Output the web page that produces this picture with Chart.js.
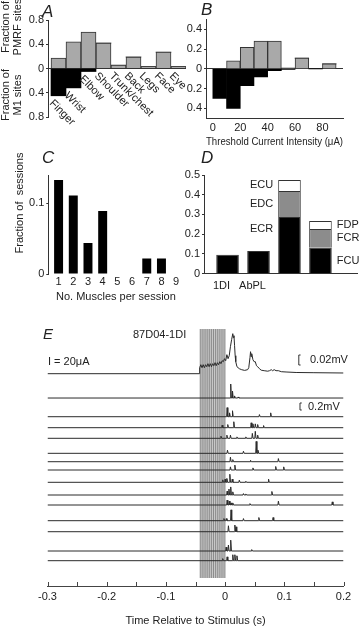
<!DOCTYPE html>
<html>
<head>
<meta charset="utf-8">
<script src="https://cdn.jsdelivr.net/npm/chart.js@4.4.0/dist/chart.umd.min.js"></script>
<style>
  html, body { margin:0; padding:0; background:#fff; }
  #fig { position:relative; width:360px; height:628px; overflow:hidden;
         font-family:"Liberation Sans", Arial, sans-serif; color:#222; }
  canvas { position:absolute; }
  .txt { position:absolute; font-size:11px; line-height:11px; white-space:nowrap; }
  .lett { position:absolute; font-size:17px; line-height:17px; font-style:italic; }
  .rot { position:absolute; font-size:11px; line-height:12px; white-space:nowrap; text-align:center;
         transform:translate(-50%,-50%) rotate(-90deg); }
</style>
</head>
<body>
<div id="fig">
  <canvas id="cA" style="left:0;top:0" width="190" height="150"></canvas>
  <canvas id="cB" style="left:180px;top:0" width="180" height="150"></canvas>
  <canvas id="cC" style="left:0;top:150px" width="190" height="155"></canvas>
  <canvas id="cD" style="left:180px;top:150px" width="180" height="150"></canvas>
  <canvas id="cE" style="left:0;top:320px" width="360" height="308"></canvas>

  <div class="lett" style="left:42px;top:3px">A</div>
  <div class="lett" style="left:201px;top:1px">B</div>
  <div class="lett" style="left:42px;top:149px">C</div>
  <div class="lett" style="left:201px;top:149px">D</div>
  <div class="lett" style="left:43px;top:326px;font-size:15px;line-height:15px">E</div>

  <div class="rot" style="left:11px;top:27px">Fraction of<br>PMRF sites</div>
  <div class="rot" style="left:11px;top:95px">Fraction of<br>M1 sites</div>
  <div class="rot" style="left:19px;top:203px">Fraction of&nbsp; sessions</div>

  <div class="txt" style="left:133px;top:329px">87D04-1DI</div>
  <div class="txt" style="left:48px;top:356px">I = 20μA</div>
  <div class="txt" style="left:310px;top:354px">0.02mV</div>
  <div class="txt" style="left:308px;top:401px">0.2mV</div>
</div>

<script>
// Panel A - body region of PMRF vs M1 sites
const regionNames = ['Finger', 'Wrist', 'Elbow', 'Shoulder', 'Trunk/chest', 'Back', 'Legs', 'Face', 'Eye'];
const pmrfFrac = [0.17, 0.44, 0.60, 0.42, 0.055, 0.19, 0.03, 0.27, 0.03];
const m1Frac = [0.45, 0.32, 0.05, 0, 0, 0, 0, 0, 0];
const aTicks = [-0.8, -0.4, 0, 0.4, 0.8];

// Panel B - threshold histogram (10 uA bins)
const binCentres = [5, 15, 25, 35, 45, 55, 65, 75, 85];
const pmrfThresh = [0, 0.08, 0.218, 0.28, 0.28, 0.01, 0.108, 0, 0.05];
const m1Thresh = [0.30, 0.40, 0.172, 0.081, 0.02, 0.005, 0, 0, 0];
const bYTicks = [-0.4, -0.2, 0, 0.2, 0.4];
const bXTicks = [0, 20, 40, 60, 80];

// Panel C - muscles per session
const muscleCounts = [1, 2, 3, 4, 5, 6, 7, 8, 9];
const sessionFrac = [0.133, 0.111, 0.044, 0.089, 0, 0, 0.022, 0.022, 0];
const cYTicks = [0, 0.1];

// Panel D - muscles
const muscleGroups = ['1DI', 'AbPL', '', ''];
const dLower = [0.095, 0.114, 0.287, 0.131];   // 1DI, AbPL, ECR, FCU
const dMiddle = [null, null, 0.132, 0.095];     // EDC, FCR
const dUpper = [null, null, 0.056, 0.040];      // ECU, FDP
const leftSegNames = ['ECR', 'EDC', 'ECU'];
const rightSegNames = ['FCU', 'FCR', 'FDP'];
const dYTicks = [0, 0.1, 0.2, 0.3, 0.4, 0.5];

// Panel E - stimulus triggered EMG (time in ms)
const avgMs = [-300,-44,-43,-41,-39,-37,-35,-33,-31,-29,-27,-25,-23,-21,-19,-17,-15,-13,-11,-9,
  -7,-5,-3,-1,1,3,5,7,9,11,13,14,15,16,17,18,20,24,28,33,38,40,42,43,44,45,47,49,51,53,
  55,58,61,66,72,75,78,80,83,86,90,95,103,120,150,200];
const avgUV = [0,0,12,18,12,18,12,18,14,20,14,20,14,20,16,22,16,22,18,24,
  20,26,24,30,26,38,30,36,54,68,80,72,76,56,36,24,14,10,8,6.6,8,12,32,44,34,40,28,24,24,16,
  14,10,7,6,5,6,8,6,8,6,6,4,3.4,2.4,2,1.4];
const spikeMs = [
  [9.5, 12.5, 16, 22],
  [3.4, 7.5, 12.5, 58, 77],
  [-5, 4.5, 14.7, 44, 47, 51, 55, 65],
  [-7, 3, 9, 20, 35, 46, 51, 55],
  [4, 31, 52.5, 55.5],
  [9, 13, 43, 90],
  [9, 16.5, 47, 85.5, 99],
  [-4, 0, 3, 8, 12, 24, 35, 73.4],
  [3.4, 6.5, 9.5, 13, 31, 35, 79],
  [3.4, 7, 10, 13, 42, 90, 181],
  [-2, 2, 10, 31, 57, 81],
  [5.6, 16.5, 18.5],
  [1.7, 5.6, 9.5, 45],
  [-4, 3.4, 13, 16.5, 20]
];
const spikeMv = [
  [0.40, 0.20, 0.06, 0.03],
  [0.26, 0.11, 0.17, 0.06, 0.11],
  [0.07, 0.09, 0.17, 0.14, 0.11, 0.11, 0.09, 0.06],
  [0.06, 0.09, 0.09, 0.04, 0.04, 0.14, 0.20, 0.09],
  [0.09, 0.06, 0.34, 0.09],
  [0.13, 0.06, 0.04, 0.09],
  [0.09, 0.14, 0.06, 0.10, 0.09],
  [0.07, 0.09, 0.11, 0.23, 0.09, 0.06, 0.03, 0.09],
  [0.11, 0.17, 0.23, 0.09, 0.04, 0.03, 0.10],
  [0.14, 0.11, 0.06, 0.06, 0.04, 0.11, 0.09],
  [0.06, 0.06, 0.31, 0.06, 0.09, 0.09],
  [0.17, 0.19, 0.14],
  [0.11, 0.17, 0.31, 0.04],
  [0.06, 0.11, 0.17, 0.17, 0.14]
];
const stimMs = [-42.0, -38.8, -35.6, -32.4, -29.2, -26.0, -22.8, -19.6, -16.4, -13.2, -10.0, -6.8, -3.6, -0.4];
const eTicks = [-0.3, -0.25, -0.2, -0.15, -0.1, -0.05, 0, 0.05, 0.1, 0.15, 0.2];

// layout of the trace stack (y in mV of the single sweep scale)
const traceOffset = [6.066, 5.371, 4.837, 4.523, 4.22, 3.791, 3.551, 3.314, 2.963, 2.6, 2.314, 1.866, 1.551, 1.0, 0.723];
const AVG_GAIN = 14.29;   // top trace is drawn 10x bigger (0.02mV vs 0.2mV bars)

const FONT = { family: '"Liberation Sans", Arial, sans-serif', size: 11 };
const INK = '#222';
const LINE = '#333';
const LIGHT = '#a9a9a9';
const MID = '#8c8c8c';

Chart.defaults.font.family = FONT.family;
Chart.defaults.font.size = 11;
Chart.defaults.color = INK;

const base = {
  responsive: false,
  animation: false,
  devicePixelRatio: 1,
  events: [],
  plugins: { legend: { display: false }, tooltip: { enabled: false } }
};

function fixTicks(vals) {
  return s => { s.ticks = vals.map(v => ({ value: v })); };
}
function absLabel(v) {
  return Math.abs(v) < 1e-9 ? '0' : Math.abs(v).toFixed(1);
}
function zeroGrid(ctx) {
  return ctx.tick && Math.abs(ctx.tick.value) < 1e-9 ? LINE : 'rgba(0,0,0,0)';
}

//-----PANEL A
const aLabelPlugin = {
  id: 'aLabels',
  afterDatasetsDraw(chart) {
    const { ctx, scales: { x, y } } = chart;
    ctx.save();
    ctx.font = '11px ' + FONT.family;
    ctx.fillStyle = INK;
    ctx.textBaseline = 'top';
    regionNames.forEach((name, i) => {
      const px = x.getPixelForValue(i - 0.5) + 4;
      const py = y.getPixelForValue(-m1Frac[i]) + 2;
      ctx.save();
      ctx.translate(px, py);
      ctx.rotate(Math.PI / 4);
      ctx.fillText(name, 0, 0);
      ctx.restore();
    });
    ctx.restore();
  }
};

new Chart(document.getElementById('cA'), {
  type: 'bar',
  data: {
    datasets: [
      { data: regionNames.map((n, i) => ({ x: i, y: pmrfFrac[i] })), backgroundColor: LIGHT,
        borderColor: LINE, borderWidth: 1, barPercentage: 1, categoryPercentage: 1 },
      { data: regionNames.map((n, i) => ({ x: i, y: -m1Frac[i] })), backgroundColor: '#000',
        borderWidth: 0, barPercentage: 1, categoryPercentage: 1 }
    ]
  },
  options: {
    ...base,
    layout: { padding: { top: 20, right: 4, bottom: 33, left: 0 } },
    scales: {
      x: { type: 'linear', min: -0.7, max: 8.5, stacked: true, offset: false, display: false,
           afterBuildTicks: fixTicks(regionNames.map((n, i) => i)) },
      y: { min: -0.8, max: 0.8, stacked: true,
           afterBuildTicks: fixTicks(aTicks),
           afterFit: s => { s.width = 48; },
           ticks: { callback: absLabel, padding: 2 },
           grid: { color: zeroGrid, tickColor: LINE, tickLength: 2 },
           border: { color: LINE } }
    }
  },
  plugins: [aLabelPlugin]
});

//-----PANEL B
new Chart(document.getElementById('cB'), {
  type: 'bar',
  data: {
    datasets: [
      { data: binCentres.map((c, i) => ({ x: c, y: pmrfThresh[i] })), backgroundColor: LIGHT,
        borderColor: LINE, borderWidth: 1, barPercentage: 1, categoryPercentage: 1 },
      { data: binCentres.map((c, i) => ({ x: c, y: -m1Thresh[i] })), backgroundColor: '#000',
        borderWidth: 0, barPercentage: 1, categoryPercentage: 1 }
    ]
  },
  options: {
    ...base,
    layout: { padding: { top: 19.4, right: 17, bottom: 0, left: 0 } },
    scales: {
      x: { type: 'linear', min: -5, max: 95, stacked: true, offset: false,
           afterBuildTicks: fixTicks(bXTicks),
           afterFit: s => { s.height = 31.8; },
           ticks: { padding: 3.5, maxRotation: 0 },
           grid: { display: false, drawTicks: false, offset: false },
           border: { color: LINE },
           title: { display: true, text: 'Threshold Current Intensity (μA)', padding: { top: 0, bottom: 1.7 } } },
      y: { min: -0.5, max: 0.5, stacked: true,
           afterBuildTicks: fixTicks(bYTicks),
           afterFit: s => { s.width = 26; },
           ticks: { callback: absLabel, padding: 2 },
           grid: { color: zeroGrid, tickColor: LINE, tickLength: 2 },
           border: { color: LINE } }
    }
  }
});

//-----PANEL C
new Chart(document.getElementById('cC'), {
  type: 'bar',
  data: {
    datasets: [
      { data: muscleCounts.map((m, i) => ({ x: m, y: sessionFrac[i] })), backgroundColor: '#000',
        borderWidth: 0, barPercentage: 0.61, categoryPercentage: 1 }
    ]
  },
  options: {
    ...base,
    layout: { padding: { top: 25, right: 6.5, bottom: 0, left: 0 } },
    scales: {
      x: { type: 'linear', min: 0.3, max: 9.5, offset: false,
           afterBuildTicks: fixTicks(muscleCounts),
           afterFit: s => { s.height = 31; },
           ticks: { padding: 1, maxRotation: 0 },
           grid: { display: false, drawTicks: false, offset: false },
           border: { display: false },
           title: { display: true, text: 'No. Muscles per session', padding: { top: 0, bottom: 1.7 } } },
      y: { min: 0, max: 0.14,
           afterBuildTicks: fixTicks(cYTicks),
           afterFit: s => { s.width = 48.3; },
           ticks: { callback: v => (v === 0 ? '0' : v.toFixed(1)), padding: 2 },
           grid: { drawOnChartArea: false, tickColor: LINE, tickLength: 2 },
           border: { color: LINE } }
    }
  }
});

//-----PANEL D
const dLabelPlugin = {
  id: 'dLabels',
  afterDatasetsDraw(chart) {
    const { ctx, scales: { y } } = chart;
    const bar3 = chart.getDatasetMeta(0).data[2];
    const bar4 = chart.getDatasetMeta(0).data[3];
    ctx.save();
    ctx.font = '11px ' + FONT.family;
    ctx.fillStyle = INK;
    ctx.textBaseline = 'middle';
    const segMid = (i, k, frac) => {
      const lo = [0, dLower[i], dLower[i] + dMiddle[i]][k];
      const h = [dLower[i], dMiddle[i], dUpper[i]][k];
      return y.getPixelForValue(lo + h * frac);
    };
    ctx.textAlign = 'right';
    leftSegNames.forEach((n, k) => {
      ctx.fillText(n, bar3.x - bar3.width / 2 - 5, segMid(2, k, k === 0 ? 0.79 : 0.5));
    });
    ctx.textAlign = 'left';
    rightSegNames.forEach((n, k) => {
      ctx.fillText(n, bar4.x + bar4.width / 2 + 5, segMid(3, k, 0.5));
    });
    ctx.restore();
  }
};

const dPos = [1, 2, 3, 4];
new Chart(document.getElementById('cD'), {
  type: 'bar',
  data: {
    datasets: [
      { data: dPos.map((p, i) => ({ x: p, y: dLower[i] })), backgroundColor: '#000',
        borderColor: LINE, borderWidth: 1, barPercentage: 0.73, categoryPercentage: 1 },
      { data: dPos.map((p, i) => ({ x: p, y: dMiddle[i] })), backgroundColor: MID,
        borderColor: LINE, borderWidth: 1, barPercentage: 0.73, categoryPercentage: 1 },
      { data: dPos.map((p, i) => ({ x: p, y: dUpper[i] })), backgroundColor: '#fff',
        borderColor: LINE, borderWidth: 1, barPercentage: 0.73, categoryPercentage: 1 }
    ]
  },
  options: {
    ...base,
    layout: { padding: { top: 25, right: 3, bottom: 0, left: 0 } },
    scales: {
      x: { type: 'linear', min: 0.24, max: 5.18, stacked: true, offset: false,
           afterBuildTicks: fixTicks([1, 2]),
           afterFit: s => { s.height = 26.5; },
           ticks: { callback: v => muscleGroups[v - 1], padding: 5.6, labelOffset: -6, maxRotation: 0 },
           grid: { display: false, drawTicks: false, offset: false },
           border: { color: LINE } },
      y: { min: 0, max: 0.5, stacked: true,
           afterBuildTicks: fixTicks(dYTicks),
           afterFit: s => { s.width = 24; },
           ticks: { callback: v => (v === 0 ? '0' : v.toFixed(1)), padding: 2 },
           grid: { drawOnChartArea: false, tickColor: LINE, tickLength: 2 },
           border: { color: LINE } }
    }
  },
  plugins: [dLabelPlugin]
});

//-----PANEL E
function spikeTrace(times, amps, offset) {
  const pts = [{ x: -0.3, y: offset }];
  times.forEach((t, i) => {
    const s = t / 1000;
    pts.push({ x: s - 0.0008, y: offset }, { x: s, y: offset + amps[i] }, { x: s + 0.0012, y: offset });
  });
  pts.push({ x: 0.2, y: offset });
  return pts;
}
function bracket(t, bottom, h) {
  return [{ x: t + 0.003, y: bottom }, { x: t, y: bottom }, { x: t, y: bottom + h }, { x: t + 0.003, y: bottom + h }];
}

// tick marks of the time axis point up into the plot
const eTickPlugin = {
  id: 'eTicks',
  afterDraw(chart) {
    const { ctx, chartArea, scales: { x } } = chart;
    ctx.save();
    ctx.strokeStyle = '#444';
    ctx.lineWidth = 1;
    ctx.beginPath();
    eTicks.forEach(v => {
      const px = Math.round(x.getPixelForValue(v)) + 0.5;
      ctx.moveTo(px, chartArea.bottom);
      ctx.lineTo(px, chartArea.bottom - 4);
    });
    ctx.stroke();
    ctx.restore();
  }
};

const E_TOP = 7.343;      // chart area top, mV
const BAND_LOW = 0.229;   // bottom end of the stimulus lines
const TRACE = '#2b2b2b';

const eSets = [];
eSets.push({ data: avgMs.map((t, i) => ({ x: t / 1000, y: traceOffset[0] + avgUV[i] / 1000 * AVG_GAIN })),
             borderColor: TRACE, borderWidth: 1, pointRadius: 0, order: 0 });
spikeMs.forEach((ts, k) => {
  eSets.push({ data: spikeTrace(ts, spikeMv[k], traceOffset[k + 1]),
               borderColor: TRACE, borderWidth: 1, pointRadius: 0, order: 0 });
});
eSets.push({ data: bracket(0.1245, 6.314, 0.02 * AVG_GAIN), borderColor: LINE, borderWidth: 1, pointRadius: 0, order: 0 });
eSets.push({ data: bracket(0.1265, 5.029, 0.2), borderColor: LINE, borderWidth: 1, pointRadius: 0, order: 0 });

const stimPts = [];
stimMs.forEach(t => {
  stimPts.push({ x: t / 1000, y: BAND_LOW }, { x: t / 1000, y: E_TOP }, { x: t / 1000, y: null });
});
eSets.push({ data: stimPts, borderColor: '#8a8a8a', borderWidth: 1, pointRadius: 0, spanGaps: false, order: 1 });
eSets.push({ data: [{ x: -0.0425, y: E_TOP }, { x: 0.0008, y: E_TOP }], borderWidth: 0, pointRadius: 0,
             backgroundColor: '#cfcfcf', fill: { value: BAND_LOW }, order: 2 });

new Chart(document.getElementById('cE'), {
  type: 'line',
  data: { datasets: eSets },
  options: {
    ...base,
    elements: { line: { tension: 0 } },
    layout: { padding: { top: 9, right: 16.5, bottom: 0, left: 47.5 } },
    scales: {
      x: { type: 'linear', min: -0.3, max: 0.2,
           afterBuildTicks: fixTicks(eTicks),
           afterFit: s => { s.height = 42; },
           ticks: { padding: 4, maxRotation: 0, autoSkip: false,
                    callback: v => {
                      const tenth = Math.round(v * 10);
                      if (Math.abs(v * 10 - tenth) > 1e-6) return '';
                      return tenth === 0 ? '0' : (tenth / 10).toFixed(1);
                    } },
           grid: { display: false, drawTicks: false },
           border: { color: '#444' },
           title: { display: true, text: 'Time Relative to Stimulus (s)', padding: { top: 0, bottom: 0 } } },
      y: { min: 0, max: E_TOP, display: false }
    }
  },
  plugins: [eTickPlugin]
});
</script>
</body>
</html>
